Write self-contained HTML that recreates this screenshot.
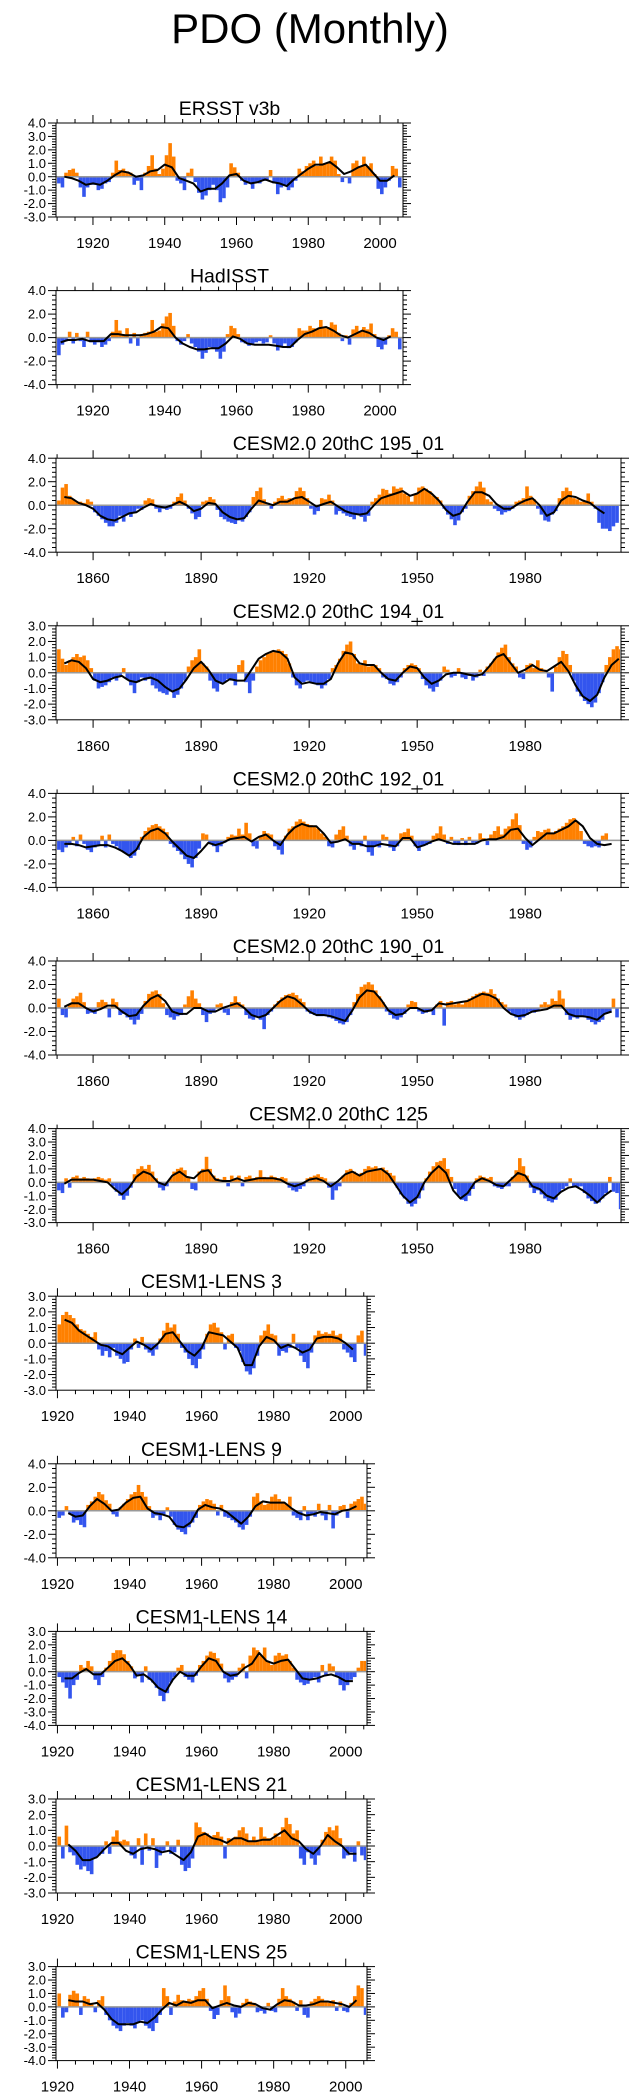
<!DOCTYPE html>
<html><head><meta charset="utf-8"><title>PDO (Monthly)</title>
<style>html,body{margin:0;padding:0;background:#fff;}svg{display:block;font-family:"Liberation Sans",Arial,sans-serif;}</style>
</head><body>
<svg id="chart" width="642" height="2099" viewBox="0 0 642 2099" xmlns="http://www.w3.org/2000/svg">
<text x="310" y="43" font-size="42" text-anchor="middle">PDO (Monthly)</text>
</svg>
<script>
// ---- data: annual representative values (start years) ----
const panelTitles = ["ERSST v3b","HadISST","CESM2.0 20thC 195_01","CESM2.0 20thC 194_01","CESM2.0 20thC 192_01","CESM2.0 20thC 190_01","CESM2.0 20thC 125","CESM1-LENS 3","CESM1-LENS 9","CESM1-LENS 14","CESM1-LENS 21","CESM1-LENS 25"];
const barStartYears = [1910,1910,1850,1850,1850,1850,1850,1920,1920,1920,1920,1920];
const smoothStartYears = [1912,1911,1852,1852,1852,1852,1852,1922,1923,1922,1923,1923];
const yMinVals = [-3,-4,-4,-3,-4,-4,-3,-3,-4,-4,-3,-4];
const yMaxVals = [4,4,4,3,4,4,4,3,4,3,3,3];
const yStepVals = [1,2,2,1,2,2,1,1,2,1,1,1];

const barsErsst = [-0.5,-0.8,0.3,0.5,0.6,0.3,-0.8,-1.5,-0.8,-0.6,-0.6,-1.0,-0.9,-0.5,-0.4,0.3,1.2,0.5,0.6,0.4,0.3,-0.6,-0.3,-1.0,0.3,0.8,1.6,0.6,0.2,0.6,1.6,2.5,1.5,-0.3,-0.5,-1.0,0.3,0.6,-0.4,-1.2,-1.7,-1.4,-1.0,-0.6,-1.0,-1.9,-1.6,-0.8,1.0,0.7,0.3,-0.3,-0.6,-0.5,-0.9,-0.4,-0.5,-0.3,-0.3,0.5,-0.5,-1.3,-0.8,-0.6,-1.0,-0.8,-0.3,0.6,0.4,0.8,1.0,1.2,0.8,1.5,1.0,1.0,1.5,1.2,0.2,-0.4,-0.1,-0.5,1.0,1.2,0.8,1.5,0.8,1.0,0.2,-0.9,-1.3,-0.8,-0.3,0.8,0.6,-0.8];
const smoothErsst = [0.0,-0.1,-0.3,-0.6,-0.5,-0.6,-0.3,0.1,0.4,0.3,0.0,0.1,0.4,0.5,0.9,0.7,-0.1,-0.3,-0.5,-1.1,-0.9,-0.9,-0.5,0.1,0.2,-0.3,-0.5,-0.4,-0.2,-0.4,-0.5,-0.7,-0.2,0.2,0.6,0.9,0.9,1.1,0.7,0.2,0.4,0.7,0.9,0.3,-0.3,-0.3,0.1];

const barsHad = [-1.5,-0.6,-0.3,0.5,-0.5,0.4,-0.3,-0.8,0.5,-0.4,-0.6,-0.4,-0.8,-0.6,-0.3,0.5,1.5,0.6,0.3,0.8,-0.5,0.4,-0.7,0.3,0.4,0.5,1.5,0.5,0.6,1.2,1.8,2.1,1.0,-0.3,-0.6,-0.3,0.3,-0.5,-0.8,-1.2,-1.8,-1.3,-0.8,-0.9,-1.2,-1.8,-1.2,0.3,1.0,0.8,0.3,-0.4,-0.5,-0.7,-0.6,-0.4,-0.3,-0.5,-0.4,0.2,-0.5,-1.1,-0.8,-0.5,-0.9,-0.8,-0.4,0.8,0.6,0.6,1.0,0.8,0.7,1.5,0.8,0.9,1.3,1.1,0.4,-0.3,0.2,-0.6,0.7,1.0,0.5,0.9,0.7,1.2,0.3,-0.8,-1.0,-0.6,0.2,0.8,0.5,-1.0];
const smoothHad = [-0.4,-0.2,-0.2,-0.1,-0.3,-0.3,-0.3,0.3,0.3,0.2,0.2,0.2,0.3,0.5,0.9,0.8,0.0,-0.5,-0.8,-1.0,-1.0,-0.9,-0.9,-0.5,0.1,-0.1,-0.5,-0.6,-0.6,-0.6,-0.7,-0.8,-0.8,-0.2,0.3,0.5,0.8,0.9,0.6,0.2,0.0,0.3,0.6,0.4,0.0,-0.2,0.1];

const bars195 = [0.4,1.5,1.8,0.8,0.5,0.3,0.3,0.2,0.5,0.3,-0.6,-0.9,-1.2,-1.5,-1.8,-1.8,-1.5,-0.9,-1.4,-0.8,-1.0,-0.6,-0.3,-0.4,0.4,0.6,0.5,-0.3,-0.6,-0.3,-0.4,-0.3,0.3,0.7,1.0,0.4,-0.3,-0.7,-1.2,-1.0,0.3,0.4,0.7,0.5,-0.4,-1.0,-1.2,-1.4,-1.5,-1.6,-1.3,-1.4,-1.0,-0.6,0.7,1.2,1.5,0.5,0.2,-0.3,0.3,0.6,0.8,0.5,0.6,0.5,1.2,1.5,1.2,0.6,-0.3,-0.8,-0.5,0.6,0.5,0.9,0.4,-0.8,-0.5,-0.7,-0.9,-1.0,-1.2,-0.8,-1.0,-1.4,-0.9,0.3,0.6,0.9,1.4,1.3,1.0,1.6,1.4,1.5,1.0,0.8,0.3,1.0,1.5,1.6,1.4,1.2,0.8,0.7,0.4,-0.3,-0.8,-1.2,-1.7,-1.3,-0.6,-0.3,0.8,1.2,1.6,2.0,1.5,0.5,0.3,-0.3,-0.5,-0.8,-0.6,-0.5,-0.3,0.3,0.4,0.6,1.6,0.8,0.5,-0.3,-0.8,-1.3,-1.4,-0.8,-0.5,0.6,1.2,1.5,1.2,0.6,0.5,0.3,0.4,1.0,0.3,-0.3,-1.5,-2.0,-2.0,-2.2,-1.8,-1.5];
const smooth195 = [0.7,0.6,0.2,0.0,-0.3,-0.9,-1.2,-1.3,-1.0,-0.7,-0.6,-0.2,0.1,-0.1,-0.2,0.0,0.3,0.0,-0.5,-0.3,0.2,0.1,-0.6,-1.0,-1.2,-1.1,-0.3,0.4,0.2,0.0,0.3,0.3,0.6,0.7,0.3,-0.1,0.1,0.3,-0.1,-0.5,-0.7,-0.8,-0.7,0.0,0.6,0.8,1.0,1.2,0.8,1.0,1.4,1.0,0.4,-0.4,-0.9,-0.7,0.3,1.1,1.1,0.8,0.1,-0.3,-0.3,0.1,0.4,0.6,0.0,-0.9,-0.6,0.4,0.8,0.7,0.4,0.2,-0.3,-0.7];

const bars194 = [1.5,0.9,0.5,0.8,1.0,1.2,1.0,1.1,0.8,0.3,-0.5,-1.0,-0.9,-0.8,-0.6,-0.3,-0.5,-0.2,0.3,-0.4,-0.8,-1.3,-0.6,-0.3,-0.5,-0.4,-0.8,-1.0,-1.2,-1.3,-1.4,-1.2,-1.6,-1.4,-1.0,-0.5,0.4,0.8,1.0,1.5,0.6,0.4,-0.5,-1.0,-1.2,-0.7,-0.6,-0.4,-0.5,-0.8,0.5,0.8,-0.6,-1.3,-0.5,0.4,0.8,1.0,1.2,1.3,1.4,1.5,1.4,1.2,0.6,-0.3,-0.8,-1.0,-0.6,-0.5,-0.6,-0.7,-0.8,-1.0,-0.8,-0.4,0.3,0.5,0.9,1.4,1.8,2.0,1.2,0.6,0.5,0.8,0.4,0.5,0.5,0.3,-0.3,-0.4,-0.7,-0.8,-0.6,-0.3,0.3,0.5,0.6,0.5,0.3,-0.4,-0.8,-1.0,-1.2,-0.9,-0.5,0.4,0.2,-0.3,-0.2,0.3,-0.3,-0.4,-0.2,-0.5,-0.3,0.2,-0.2,0.4,0.6,0.9,1.3,1.6,1.8,1.0,0.6,0.4,-0.3,-0.4,0.5,0.6,0.3,0.8,0.3,0.2,-0.3,-1.2,0.4,1.0,1.4,1.2,0.5,-0.5,-1.2,-1.5,-1.8,-2.0,-2.2,-1.9,-1.3,-0.6,0.5,1.0,1.5,1.7,1.5];
const smooth194 = [0.6,0.8,0.7,0.3,-0.4,-0.6,-0.5,-0.3,-0.2,-0.5,-0.6,-0.4,-0.3,-0.5,-0.9,-1.2,-1.0,-0.4,0.3,0.7,0.2,-0.5,-0.7,-0.4,-0.5,-0.5,0.2,0.9,1.2,1.4,1.3,0.9,-0.3,-0.7,-0.6,-0.7,-0.7,-0.4,0.6,1.3,1.2,0.6,0.5,0.5,0.0,-0.4,-0.5,0.0,0.4,0.3,-0.3,-0.7,-0.5,-0.1,0.0,0.0,-0.1,-0.2,-0.1,0.4,1.0,1.2,0.6,0.0,0.2,0.5,0.2,0.1,0.4,0.7,0.1,-0.8,-1.5,-1.8,-1.4,-0.3,0.5,0.9];

const bars192 = [-0.8,-1.0,-0.6,-0.4,0.3,-0.5,0.5,-0.3,-0.8,-1.0,-0.6,-0.4,0.4,-0.6,0.5,-0.3,-0.5,-0.8,-1.0,-1.2,-1.5,-1.3,-0.8,0.3,0.8,1.1,1.3,1.4,1.2,1.0,0.7,-0.3,-0.6,-0.9,-1.2,-1.6,-2.0,-2.3,-1.5,-0.7,0.6,0.5,-0.3,-0.5,-1.0,-0.5,-0.2,0.3,0.5,0.4,1.0,0.5,1.5,0.6,-0.5,-0.7,0.4,0.8,0.6,0.5,-0.5,-0.8,-1.2,0.4,1.0,1.2,1.6,1.8,1.6,1.4,1.3,1.2,1.0,0.6,0.3,-0.5,-0.6,0.5,0.9,1.2,0.4,-0.5,-0.8,-0.3,-0.5,0.4,-1.0,-1.3,-0.4,-0.6,0.5,0.3,-0.6,-0.9,-0.5,0.6,0.7,1.0,0.4,-0.5,-0.9,-0.5,-0.4,-0.3,0.4,0.6,1.2,0.5,-0.3,0.3,-0.3,-0.4,0.2,-0.4,0.3,-0.2,-0.3,0.6,0.2,-0.4,0.5,0.8,1.2,0.5,1.0,1.2,1.8,2.3,1.3,-0.3,-0.8,-0.6,0.3,0.8,0.7,0.9,1.0,0.6,0.8,1.0,1.2,1.5,1.8,1.9,1.6,0.8,-0.3,-0.5,-0.6,-0.5,-0.6,0.4,0.6];
const smooth192 = [-0.3,-0.3,-0.4,-0.6,-0.5,-0.4,-0.4,-0.6,-0.9,-1.3,-0.8,0.3,0.8,1.0,0.6,-0.1,-0.7,-1.3,-1.5,-0.9,-0.2,-0.4,-0.2,0.1,0.2,0.3,-0.1,0.3,0.5,0.0,-0.4,0.5,1.1,1.4,1.2,1.2,0.6,-0.2,-0.1,0.1,-0.3,-0.3,-0.5,-0.5,-0.3,-0.4,-0.5,0.2,0.2,-0.6,-0.4,-0.1,0.1,-0.1,-0.3,-0.3,-0.3,-0.3,0.0,0.1,0.1,0.3,0.9,1.0,0.2,-0.4,0.1,0.6,0.6,0.9,1.2,1.7,1.2,0.2,-0.3,-0.4,-0.3];

const bars190 = [0.8,-0.6,-0.8,0.3,0.8,1.0,1.3,0.5,-0.5,-0.4,-0.5,0.5,0.7,0.5,-0.8,0.8,0.5,-0.6,-0.5,-0.8,-1.0,-1.4,-1.0,-0.5,0.6,1.2,1.4,1.5,1.2,0.4,-0.6,-0.8,-1.0,-0.7,-0.6,0.3,1.0,1.5,0.8,0.4,-0.6,-1.2,-0.5,-0.4,0.3,0.4,-0.4,-0.6,0.5,1.0,0.5,0.3,-0.6,-0.9,-1.0,-0.8,-1.0,-1.8,-0.6,-0.3,0.3,0.6,0.9,1.1,1.2,1.3,1.1,0.8,0.5,-0.3,-0.5,-0.6,-0.7,-0.7,-0.6,-0.8,-0.9,-1.1,-1.3,-1.4,-1.2,-0.6,0.5,1.2,1.8,2.0,2.2,2.0,1.5,1.0,0.5,-0.3,-0.6,-0.9,-1.0,-0.8,-0.5,0.3,0.6,0.5,-0.3,-0.5,-0.4,-0.3,-0.6,0.3,0.6,-1.5,0.5,0.6,0.3,0.5,0.3,0.6,0.8,1.0,1.2,1.3,1.4,1.3,1.6,1.2,0.8,0.5,0.3,-0.3,-0.6,-0.8,-1.0,-0.8,-0.6,-0.3,-0.4,-0.3,0.3,0.5,0.3,0.8,0.6,1.5,0.8,-0.6,-1.0,-0.8,-0.9,-0.7,-0.8,-1.0,-1.2,-1.4,-1.2,-1.0,-0.5,-0.4,0.8,-0.8];
const smooth190 = [0.1,0.4,0.4,0.0,-0.3,-0.1,0.2,0.2,-0.3,-0.7,-0.6,0.2,0.8,1.1,0.6,-0.3,-0.5,-0.5,0.0,0.0,-0.3,-0.3,0.0,0.2,0.4,0.0,-0.6,-0.8,-0.6,0.0,0.6,1.0,0.8,0.3,-0.3,-0.6,-0.6,-0.7,-0.9,-1.1,-0.2,0.9,1.5,1.4,0.7,-0.2,-0.6,-0.5,0.0,0.0,-0.3,-0.2,0.4,0.3,0.4,0.5,0.6,0.9,1.2,1.1,0.8,0.0,-0.5,-0.7,-0.6,-0.3,-0.2,-0.1,0.2,0.2,-0.5,-0.7,-0.7,-0.8,-1.0,-0.5,-0.3];

const bars125 = [-0.6,-0.8,0.3,-0.4,0.4,0.5,0.3,0.4,0.3,0.2,0.3,0.4,0.3,0.2,0.3,-0.3,-0.7,-1.0,-1.3,-1.0,-0.4,0.6,1.0,1.2,1.0,1.3,0.8,0.3,-0.4,-0.6,-0.3,0.3,0.8,1.0,1.1,0.9,0.4,-0.5,-0.6,0.8,1.0,1.9,1.0,0.5,0.3,0.2,0.4,-0.3,0.5,0.3,0.5,-0.3,0.4,0.5,0.3,0.4,0.9,0.4,0.3,0.5,0.4,0.3,0.4,0.3,-0.4,-0.6,-0.7,-0.5,-0.3,0.3,0.4,0.5,0.6,0.4,0.3,-0.4,-1.3,-0.6,-0.3,0.5,0.9,1.0,0.8,0.6,0.7,1.0,1.2,1.1,1.2,1.0,1.1,0.9,0.7,0.5,-0.4,-0.9,-1.2,-1.6,-1.8,-1.6,-1.2,-0.6,0.3,0.8,1.2,1.5,1.6,1.8,1.0,0.4,-0.5,-1.0,-1.3,-1.4,-1.0,-0.5,0.3,0.5,0.4,0.3,0.4,-0.3,-0.4,-0.5,-0.3,-0.3,0.4,0.9,1.8,1.2,0.5,-0.4,-0.8,-0.6,-0.9,-1.2,-1.4,-1.5,-1.3,-0.8,-0.5,-0.3,0.3,-0.3,-0.4,-0.3,-0.8,-1.2,-1.4,-1.6,-1.5,-1.2,-0.8,0.4,-0.7,-0.8,-2.0];
const smooth125 = [-0.1,0.2,0.2,0.2,0.2,0.1,0.0,-0.5,-0.9,-0.4,0.4,0.8,0.6,0.0,-0.2,0.5,0.8,0.4,0.3,0.8,0.9,0.2,0.1,0.1,0.3,0.1,0.2,0.3,0.3,0.3,0.2,-0.1,-0.3,-0.1,0.2,0.3,0.1,-0.3,0.1,0.6,0.8,0.5,0.8,0.9,1.0,0.6,-0.2,-1.0,-1.5,-1.1,0.0,0.7,1.2,0.7,-0.6,-1.2,-0.8,0.0,0.3,0.1,-0.2,-0.3,0.2,0.7,0.5,-0.3,-0.5,-1.0,-1.2,-0.7,-0.4,-0.3,-0.6,-1.0,-1.5,-1.0,-0.6];

const barsL3 = [1.2,1.8,2.0,1.8,1.6,1.2,0.9,0.8,0.6,0.4,0.7,-0.4,-0.8,-0.5,-0.9,-0.3,-0.8,-1.0,-1.3,-1.2,-0.4,0.3,-0.3,0.4,-0.4,-0.6,-0.8,-0.4,0.3,0.8,1.3,1.0,1.2,0.6,-0.3,-0.6,-1.0,-1.4,-1.6,-1.0,-0.4,0.6,1.2,1.3,1.0,0.7,-0.4,0.5,0.6,-0.3,-0.5,-1.2,-1.8,-2.0,-1.6,-0.8,0.5,0.8,1.2,0.6,0.5,-0.8,-0.5,-0.6,-0.3,0.6,-0.3,-0.8,-1.2,-1.6,-0.6,0.5,0.8,0.6,0.7,0.6,0.8,0.5,0.6,-0.4,-0.6,-0.9,-1.2,0.5,0.8,-0.8];
const smoothL3 = [1.5,1.3,0.8,0.5,0.2,-0.1,-0.2,-0.5,-0.7,-0.3,0.1,-0.1,-0.4,0.0,0.6,0.7,0.1,-0.5,-0.8,-0.3,0.7,0.6,0.5,0.1,-0.3,-1.4,-1.4,-0.2,0.4,0.2,-0.3,-0.1,-0.3,-0.6,-0.4,0.3,0.4,0.4,0.3,0.0,-0.4];

const barsL9 = [-0.6,-0.4,0.4,-0.3,-1.0,-0.8,-1.2,-1.4,0.5,0.8,1.2,1.6,1.4,0.9,0.6,-0.3,-0.5,0.3,0.6,1.0,1.4,1.6,2.2,1.6,1.2,0.4,-0.6,-0.4,-0.8,-0.3,0.3,-0.5,-1.2,-1.6,-1.8,-2.0,-1.4,-1.0,-0.6,0.5,0.8,1.0,0.9,0.6,-0.4,0.5,-0.5,-0.6,-0.8,-1.0,-1.4,-1.6,-1.2,-0.5,1.2,1.5,0.8,0.5,0.6,1.2,1.4,1.0,0.8,0.6,1.2,-0.4,-0.6,-0.8,0.4,-0.8,-0.3,-0.5,0.6,-0.4,-0.8,0.5,-1.5,-0.4,0.4,0.5,-0.6,0.6,0.8,1.0,1.2,0.6];
const smoothL9 = [-0.2,-0.5,-0.4,0.4,1.0,0.6,0.0,0.1,0.7,1.1,1.2,0.2,-0.2,-0.3,-0.5,-1.3,-1.4,-1.0,0.1,0.5,0.3,0.2,-0.1,-0.6,-1.1,-0.5,0.4,0.8,0.7,0.7,0.7,0.2,-0.2,-0.4,-0.3,-0.1,-0.2,-0.3,0.0,0.1,0.4];

const barsL14 = [-0.4,-0.8,-1.2,-2.0,-1.0,-0.6,0.5,0.3,0.8,0.4,-0.6,-1.0,-0.4,0.3,0.8,1.4,1.6,1.6,1.3,0.8,0.4,-0.5,-0.3,-0.8,0.4,-0.6,-0.8,-1.2,-1.8,-2.2,-1.6,-0.8,-0.4,0.3,0.5,-0.4,-0.6,-0.8,-0.3,0.5,0.8,1.2,1.5,1.4,1.0,0.6,-0.5,-0.8,-0.6,-0.4,0.3,0.6,-0.5,1.2,1.8,1.6,1.2,1.8,0.8,0.5,1.2,1.4,1.2,1.3,0.8,0.3,-0.6,-0.8,-1.0,-0.9,-0.6,-0.4,-0.8,0.5,-0.3,0.6,0.4,-0.3,-1.0,-1.4,-1.0,-0.6,-0.4,0.3,0.8,0.8];
const smoothL14 = [-0.5,-0.5,-0.1,0.2,-0.2,-0.2,0.3,0.8,1.0,0.5,-0.3,-0.2,-0.6,-1.2,-1.5,-0.6,0.0,-0.3,-0.3,0.4,1.0,0.8,0.0,-0.3,-0.2,0.3,0.6,1.4,0.8,0.6,0.8,0.9,0.2,-0.5,-0.6,-0.5,-0.3,-0.2,-0.4,-0.7,-0.7];

const barsL21 = [0.6,-0.8,1.3,-0.4,-0.6,-1.2,-1.5,-1.3,-1.6,-1.8,-0.8,-0.6,-0.5,0.3,-0.5,0.6,1.0,0.3,0.4,0.3,-0.6,-0.8,0.5,-1.2,0.8,-0.3,0.5,-1.4,-0.6,-0.3,0.3,-0.5,-0.4,0.4,-1.2,-1.6,-1.4,-0.8,1.5,1.2,0.9,0.8,0.6,0.7,0.9,0.6,-0.8,0.5,0.4,0.6,1.0,1.2,0.8,0.3,0.6,0.4,1.2,0.6,0.5,0.4,0.8,0.6,1.2,1.8,1.4,0.8,1.0,-0.8,-1.2,-0.4,-0.8,-1.2,-0.6,0.4,0.9,1.2,1.0,1.3,0.5,-0.8,-0.6,-0.4,-1.0,0.3,-0.6,-0.9];
const smoothL21 = [0.1,-0.3,-0.9,-0.9,-0.7,-0.2,0.2,0.2,-0.3,-0.5,-0.2,-0.1,-0.2,-0.4,-0.3,-0.6,-0.9,-0.4,0.6,0.8,0.5,0.4,0.2,0.5,0.5,0.3,0.3,0.4,0.4,0.7,1.0,0.5,0.3,-0.2,-0.5,0.0,0.7,0.3,0.0,-0.5,-0.5];

const barsL25 = [1.0,-0.8,-0.4,0.9,1.2,1.0,-0.6,0.8,0.6,0.3,-0.4,0.5,0.8,-0.6,-1.0,-1.4,-1.6,-1.8,-1.4,-1.2,-1.4,-1.6,-1.2,-1.0,-1.4,-1.6,-1.8,-1.2,-0.6,1.4,0.8,-0.6,0.4,0.9,0.5,0.4,0.6,0.5,0.8,1.2,1.4,0.6,-0.3,-0.9,-0.6,0.5,1.6,0.8,-0.4,-0.8,-0.5,0.3,0.6,0.4,0.3,-0.4,-0.3,-0.5,0.3,-0.3,-0.4,0.6,1.4,0.8,0.6,0.4,-0.3,0.5,-0.6,-0.8,0.4,0.6,0.8,0.6,0.4,0.3,0.5,-0.3,0.4,-0.3,-0.4,0.3,0.8,1.6,1.4,-0.6];
const smoothL25 = [0.5,0.4,0.4,0.2,0.3,-0.2,-0.9,-1.3,-1.3,-1.3,-1.1,-1.2,-0.8,-0.2,0.3,0.1,0.4,0.3,0.5,0.5,-0.1,0.1,0.3,0.1,0.0,0.3,0.2,-0.1,-0.2,0.2,0.5,0.4,0.1,0.1,0.2,0.4,0.4,0.3,0.2,0.0,0.5];

const allBars = [barsErsst,barsHad,bars195,bars194,bars192,bars190,bars125,barsL3,barsL9,barsL14,barsL21,barsL25];
const allSmooth = [smoothErsst,smoothHad,smooth195,smooth194,smooth192,smooth190,smooth125,smoothL3,smoothL9,smoothL14,smoothL21,smoothL25];

// ---- layout (not data) ----
const NS = "http://www.w3.org/2000/svg";
const svg = document.getElementById("chart");
function mk(tag, attrs, parent) {
  const e = document.createElementNS(NS, tag);
  for (const k in attrs) e.setAttribute(k, attrs[k]);
  (parent || svg).appendChild(e);
  return e;
}
const kinds = ["obs","obs","c2","c2","c2","c2","c2","le","le","le","le","le"];
const kindCfg = {
  obs: {left:56, right:403, x0:1909.7, x1:2006.4, major:20, minor:5, firstMajor:1920},
  c2:  {left:56, right:621, x0:1849.7, x1:2006.6, major:30, minor:10, firstMajor:1860},
  le:  {left:56, right:367, x0:1919.6, x1:2005.9, major:20, minor:5, firstMajor:1920}
};
const BOX_H = 94;

panelTitles.forEach((title, i) => {
  const c = kindCfg[kinds[i]];
  const top = 123 + i * 167.6;
  const bot = top + BOX_H;
  const g = mk("g", {});
  
  
  const xs = y => c.left + (y - c.x0) / (c.x1 - c.x0) * (c.right - c.left);
  const ys = v => bot - (v - yMinVals[i]) / (yMaxVals[i] - yMinVals[i]) * BOX_H;

  const t = mk("text", {x:(c.left + c.right) / 2, y:top - 8, "font-size":19.5, "text-anchor":"middle"}, g);
  t.textContent = title;
  
  

  const bars = allBars[i];
  const y0 = ys(0);
  bars.forEach((v, k) => {
    const yr = barStartYears[i] + k;
    const xa = xs(yr), xb = Math.min(xs(yr + 1), c.right - 1);
    if (xb <= xa) return;
    const r = mk("rect", {x:xa.toFixed(2), y:Math.min(ys(v), y0).toFixed(2), width:(xb - xa).toFixed(2), height:Math.abs(ys(v) - y0).toFixed(2), fill: v >= 0 ? "#ff8000" : "#3355ee"}, g);
    
    
  });

  const zl = mk("line", {x1:c.left, x2:c.right, y1:y0, y2:y0, stroke:"#999", "stroke-width":1.5}, g);
  
  

  const sm = allSmooth[i];
  const pts = sm.map((v, k) => xs(smoothStartYears[i] + 2 * k).toFixed(1) + "," + ys(v).toFixed(1)).join(" ");
  const pl = mk("polyline", {points:pts, fill:"none", stroke:"#000", "stroke-width":2, "stroke-linejoin":"round"}, g);
  
  

  const bx = mk("rect", {x:c.left, y:top, width:c.right - c.left, height:BOX_H, fill:"none", stroke:"#000", "stroke-width":1}, g);
  
  

  const ymin = yMinVals[i], ymax = yMaxVals[i], step = yStepVals[i];
  const minorStep = step / 5;
  for (let v = ymin; v <= ymax + 1e-6; v += minorStep) {
    const yy = ys(v);
    const isMajor = Math.abs(Math.round(v / step) * step - v) < 1e-6;
    const len = isMajor ? 8 : 4;
    mk("line", {x1:c.left - len, x2:c.left, y1:yy, y2:yy, stroke:"#000", "stroke-width":1}, g);
    mk("line", {x1:c.right, x2:c.right + len, y1:yy, y2:yy, stroke:"#000", "stroke-width":1}, g);
  }
  for (let v = ymin; v <= ymax + 1e-6; v += step) {
    const lab = mk("text", {x:46, y:ys(v) + 4.6, "font-size":13, "text-anchor":"end"}, g);
    lab.textContent = v.toFixed(1);
    
    
  }

  const startMinor = Math.ceil(c.x0 / c.minor) * c.minor;
  for (let yr = startMinor; yr <= c.x1; yr += c.minor) {
    const xx = xs(yr);
    const isMajor = (yr - c.firstMajor) % c.major === 0;
    const len = isMajor ? 8 : 4;
    mk("line", {x1:xx, x2:xx, y1:bot, y2:bot + len, stroke:"#000", "stroke-width":1}, g);
    mk("line", {x1:xx, x2:xx, y1:top - len, y2:top, stroke:"#000", "stroke-width":1}, g);
    if (isMajor) {
      const lab = mk("text", {x:xx, y:bot + 31, "font-size":15, "text-anchor":"middle"}, g);
      lab.textContent = String(yr);
      
      
    }
  }
});
</script>
</body></html>
